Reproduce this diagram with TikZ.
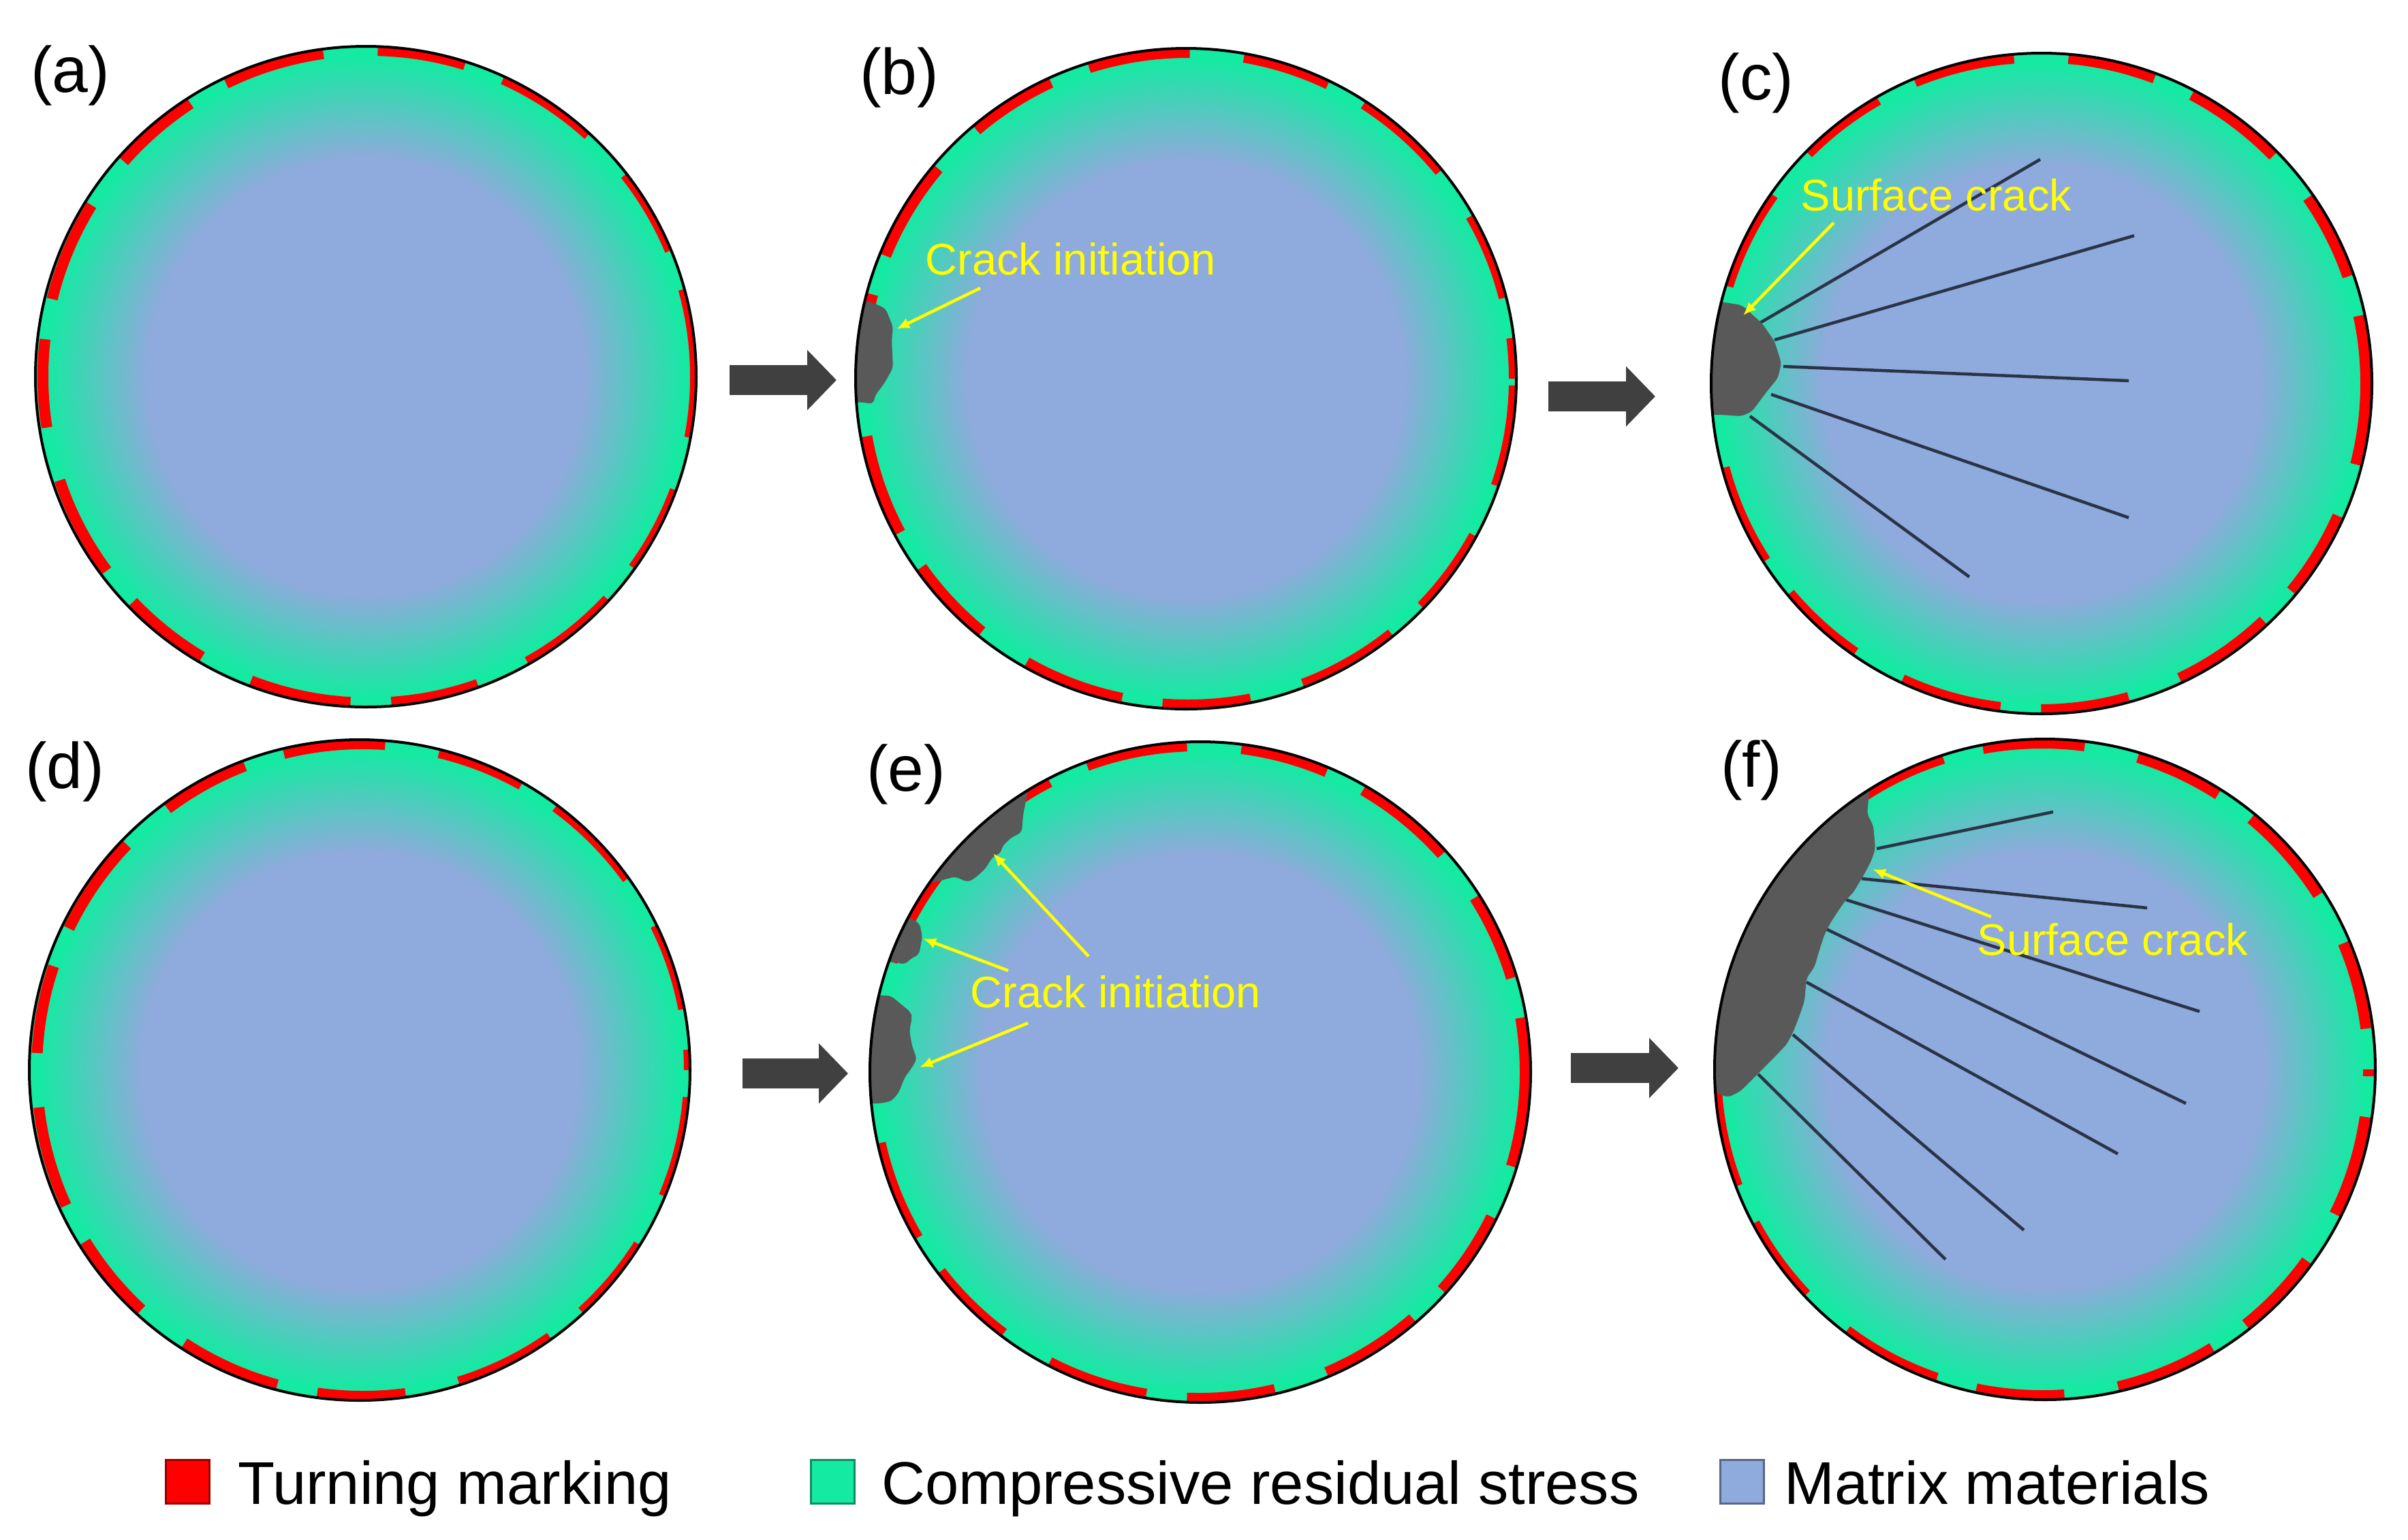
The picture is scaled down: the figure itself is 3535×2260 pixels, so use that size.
\documentclass[tikz,border=0pt]{standalone}
\usepackage{fontspec}
\setmainfont{Liberation Sans}
\usepackage{tikz}
\usetikzlibrary{positioning,arrows.meta,calc}
\definecolor{matblue}{HTML}{8FAADC}
\definecolor{stressgreen}{HTML}{14EAA2}
\definecolor{turnred}{HTML}{FF0000}
\definecolor{crackgray}{HTML}{595959}
\definecolor{stepgray}{HTML}{404040}
\definecolor{fracline}{HTML}{2A3446}
\definecolor{noteyellow}{HTML}{FFFF00}
\pgfdeclareradialshading{stressdisc}{\pgfpoint{0bp}{0bp}}{%
  color(0bp)=(matblue); color(16.5bp)=(matblue);
  color(24.3bp)=(stressgreen); color(50bp)=(stressgreen)}
\tikzset{
  disc/.style={circle,inner sep=0pt,outer sep=0pt,minimum size=97mm,shade,shading=stressdisc},
  rim/.style={draw=black,line width=0.4mm},
  turning/.style={draw=turnred,line width=1.6mm,dash pattern=on 15mm off 6mm on 13mm off 8mm},
  crack/.style={fill=crackgray,rounded corners=0.6mm},
  fracture/.style={draw=fracline,line width=0.45mm},
  pointer/.style={-{Latex[length=1.9mm,width=1.6mm]},draw=noteyellow,line width=0.45mm},
  stagearrow/.style={-{Triangle[length=4.3mm,width=8.6mm]},draw=stepgray,line width=4.4mm},
  note/.style={text=noteyellow,font=\fontsize{18.5pt}{22pt}\selectfont,inner sep=0pt},
  panel/.style={font=\fontsize{27pt}{32pt}\selectfont,inner sep=0pt},
  legkey/.style={minimum size=6.4mm,inner sep=0pt,line width=0.3mm},
  legtext/.style={font=\fontsize{25.2pt}{30pt}\selectfont,inner sep=0pt}
}
\begin{document}
\begin{tikzpicture}[x=0.1mm,y=-0.1mm]
\useasboundingbox (0,0) rectangle (3535,2260);

% discs with turning marks
\foreach \nm/\cx/\cy/\dph/\dsh in {pa/537/553/2mm/5, pb/1741/556/9mm/3, pc/2997/563/5mm/-3,
    pd/528/1571/12mm/5, pe/1762/1574/7mm/-2, pf/3002/1570/15mm/-4}{
  \node[disc] (\nm) at (\cx,\cy) {};
  \begin{scope}
    \clip (\nm.center) circle (48.5mm);
    \draw[turning,dash phase=\dph] ($(\nm.center)+(\dsh,0)$) circle (47.9mm);
  \end{scope}
}

% (b) crack
\begin{scope}
  \clip (pb.center) circle (48.5mm);
  \fill[crack] (1278,443) -- (1300,453) -- (1311,480) -- (1309,500) -- (1311,540) -- (1298,563)
    -- (1285,580) -- (1282,593) -- (1260,590) -- (1230,600) -- (1230,440) -- cycle;
\end{scope}

% (c) crack and fracture lines
\begin{scope}
  \clip (pc.center) circle (48.5mm);
  \foreach \sx/\sy/\ex/\ey in {2582/475/2995/234, 2605/499/3133/346, 2618/538/3125/559,
      2600/579/3125/760, 2569/611/2891/847}
    \draw[fracture] (\sx,\sy) -- (\ex,\ey);
  \fill[crack] (2526,443) -- (2557,448) -- (2587,475) -- (2605,501) -- (2615,533) -- (2610,555)
    -- (2592,577) -- (2572,604) -- (2557,611) -- (2526,609) -- (2480,609) -- (2480,443) -- cycle;
\end{scope}

% (e) cracks
\begin{scope}
  \clip (pe.center) circle (48.5mm);
  \fill[crack] (1507,1171) -- (1502,1196) -- (1500,1222) -- (1484,1230) -- (1471,1243) -- (1469,1253)
    -- (1458,1257) -- (1446,1276) -- (1429,1291) -- (1420,1295) -- (1402,1287) -- (1388,1291)
    -- (1350,1300) -- (1400,1180) -- (1470,1120) -- (1512,1150) -- cycle;
  \fill[crack] (1337,1348) -- (1350,1356) -- (1354,1375) -- (1349,1402) -- (1339,1406) -- (1328,1416)
    -- (1312,1412) -- (1280,1415) -- (1300,1340) -- cycle;
  \fill[crack] (1308,1462) -- (1321,1473) -- (1337,1486) -- (1339,1494) -- (1335,1513) -- (1339,1536)
    -- (1346,1555) -- (1339,1567) -- (1328,1582) -- (1319,1605) -- (1308,1617) -- (1292,1620)
    -- (1250,1620) -- (1260,1460) -- cycle;
\end{scope}

% (f) crack and fracture lines
\begin{scope}
  \clip (pf.center) circle (48.5mm);
  \foreach \sx/\sy/\ex/\ey in {2755/1246/3014/1192, 2733/1290/3152/1333, 2710/1321/3229/1485,
      2681/1364/3209/1620, 2652/1442/3109/1694, 2632/1519/2971/1806, 2581/1577/2856/1849}
    \draw[fracture] (\sx,\sy) -- (\ex,\ey);
  \fill[crack] (2744,1163) -- (2741,1195) -- (2750,1212) -- (2753,1246) -- (2747,1264) -- (2738,1281)
    -- (2721,1310) -- (2710,1321) -- (2698,1338) -- (2687,1355) -- (2678,1373) -- (2669,1401)
    -- (2664,1419) -- (2652,1436) -- (2649,1470) -- (2641,1493) -- (2632,1516) -- (2623,1533)
    -- (2606,1551) -- (2583,1574) -- (2555,1602) -- (2537,1611) -- (2520,1605) -- (2513,1579)
    -- (2480,1580) -- (2560,1250) -- (2700,1120) -- (2750,1140) -- cycle;
\end{scope}

\foreach \nm in {pa,pb,pc,pd,pe,pf}
  \draw[rim] (\nm.center) circle (48.5mm);

% panel labels
\node[panel] (la) at (103,111) {(a)};
\node[panel] (lb) at (1320,114) {(b)};
\node[panel] (lc) at (2578,122) {(c)};
\node[panel] (ld) at (95,1133) {(d)};
\node[panel] (le) at (1330,1137) {(e)};
\node[panel] (lf) at (2571,1131) {(f)};

% stage arrows
\draw[stagearrow] ($(pa.east)+(49,5)$) -- ($(pb.west)+(-28,2)$);
\draw[stagearrow] ($(pb.east)+(47,26)$) -- ($(pc.west)+(-82,19)$);
\draw[stagearrow] ($(pd.east)+(77,5)$) -- ($(pe.west)+(-32,2)$);
\draw[stagearrow] ($(pe.east)+(59,-6)$) -- ($(pf.west)+(-53,-2)$);

% notes
\node[note,anchor=base west] (nb) at (1358,403) {Crack initiation};
\coordinate (tailb) at (1439,423);
\coordinate (tipb) at (1316,483);
\draw[pointer] (tailb) -- (tipb);

\node[note,anchor=base west] (nc) at (2643,309) {Surface crack};
\coordinate (tailc) at (2692,327);
\coordinate (tipc) at (2559,463);
\draw[pointer] (tailc) -- (tipc);

\node[note,anchor=base west] (ne) at (1424,1479) {Crack initiation};
\coordinate (taile1) at (1598,1404);
\coordinate (tipe1) at (1458,1253);
\coordinate (taile2) at (1480,1425);
\coordinate (tipe2) at (1355,1378);
\coordinate (taile3) at (1509,1502);
\coordinate (tipe3) at (1350,1567);
\draw[pointer] (taile1) -- (tipe1);
\draw[pointer] (taile2) -- (tipe2);
\draw[pointer] (taile3) -- (tipe3);

\node[note,anchor=base west] (nf) at (2902,1402) {Surface crack};
\coordinate (tailf) at (2923,1346);
\coordinate (tipf) at (2749,1276);
\draw[pointer] (tailf) -- (tipf);

% legend
\node[legkey,fill=turnred,draw=turnred!60!black] (kred) at (275,2175) {};
\node[legtext,right=4mm of kred.south east,anchor=base west] (tred) {Turning marking};
\node[legkey,fill=stressgreen,draw=stressgreen!60!black] (kgreen) at (1222,2175) {};
\node[legtext,right=3.8mm of kgreen.south east,anchor=base west] (tgreen) {Compressive residual stress};
\node[legkey,fill=matblue,draw=matblue!60!black] (kblue) at (2557,2175) {};
\node[legtext,right=2.8mm of kblue.south east,anchor=base west] (tblue) {Matrix materials};
\end{tikzpicture}
\end{document}
